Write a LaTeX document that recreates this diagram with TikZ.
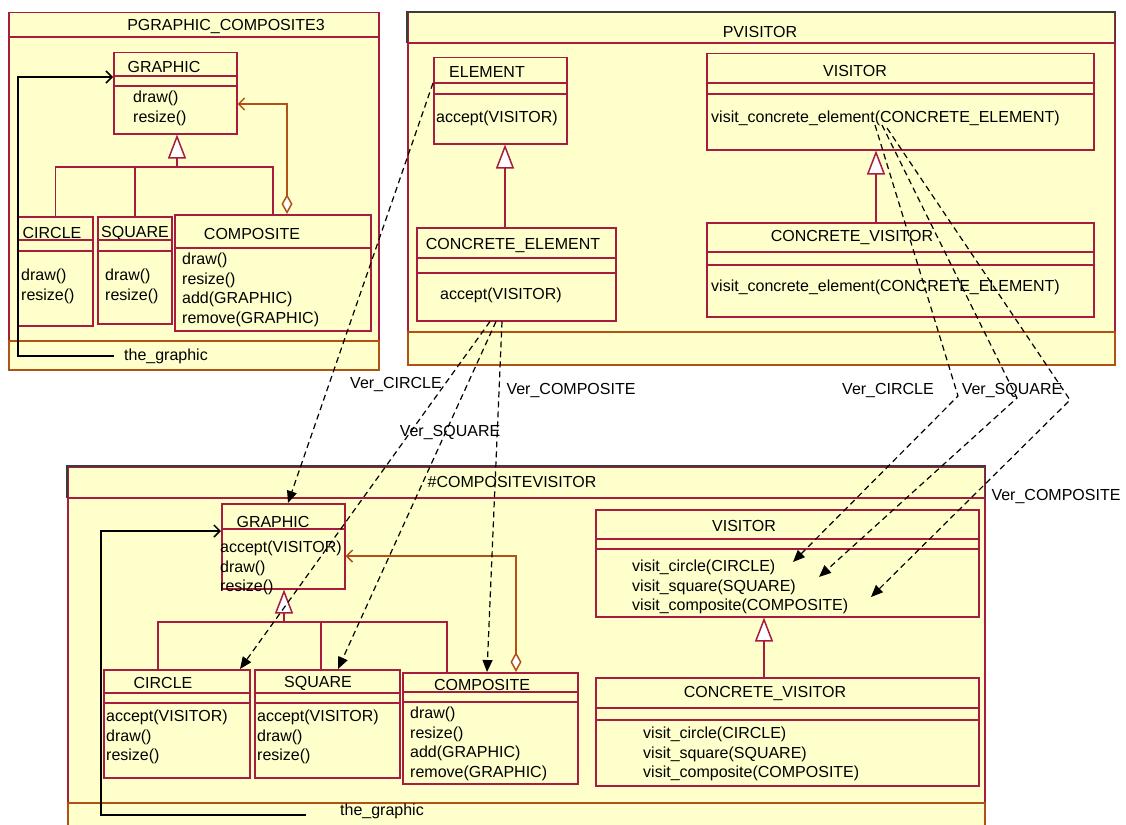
\documentclass[tikz,border=0pt]{standalone}
\usepackage{fontspec}
\setmainfont{Liberation Sans}
\usetikzlibrary{arrows.meta,calc}
\definecolor{pkgyellow}{RGB}{255,255,204}
\definecolor{umlred}{RGB}{168,28,64}
\definecolor{umlbrown}{RGB}{176,82,22}
\definecolor{umlgray}{RGB}{60,60,60}

\begin{document}
\begin{tikzpicture}[x=1pt,y=-1pt,
  pkg/.style={draw=umlred,fill=pkgyellow,line width=1.5pt,inner sep=0,anchor=north west},
  pkgfoot/.style={draw=umlbrown,fill=pkgyellow,line width=1.5pt,inner sep=0,anchor=north west},
  cls/.style={draw=umlred,fill=pkgyellow,line width=1.5pt,inner sep=0,anchor=north west},
  sep/.style={umlred,line width=1.5pt},
  txt/.style={font=\fontsize{16}{19.5}\selectfont,inner sep=0},
  ops/.style={txt,align=left,anchor=north west},
  inherit/.style={umlred,line width=1.5pt,-{Triangle[fill=white,length=24pt,width=18pt]}},
  aggr/.style={umlbrown,line width=1.5pt,{Diamond[fill=white,length=20pt,width=11pt]}-{Straight Barb[length=6pt,width=12pt]}},
  navi/.style={black,line width=1.5pt,-{Straight Barb[length=6pt,width=12pt]}},
  dep/.style={black,line width=1.2pt,dash pattern=on 6pt off 4pt,-{Triangle[length=12pt,width=10pt]}}]
  \clip (0,0) rectangle (1126,824);
  % Packages
  \node[pkg,minimum width=370pt,minimum height=357pt] (p1) at (8,12) {};
  \node[pkgfoot,minimum width=370pt,minimum height=29pt] (p1b) at (8,340) {};
  \draw[sep] ($(p1.north west)+(0,25)$) -- ($(p1.north east)+(0,25)$);
  \node[txt] (p1t) at (226,27) {PGRAPHIC\_COMPOSITE3};
  \node[pkg,minimum width=707pt,minimum height=352pt] (p2) at (407,12) {};
  \node[pkgfoot,minimum width=707pt,minimum height=33pt] (p2b) at (407,331) {};
  \draw[sep] ($(p2.north west)+(0,31)$) -- ($(p2.north east)+(0,31)$);
  \draw[umlgray,line width=1.5pt] ($(p2.north west)+(0,31)$) |- (p2.north east) -- ++(0,31);
  \node[txt] (p2t) at (760,32) {PVISITOR};
  \node[pkg,minimum width=917pt,minimum height=380pt] (p3) at (67,466) {};
  \node[pkgfoot,minimum width=917pt,minimum height=40pt] (p3b) at (67,802) {};
  \draw[sep] ($(p3.north west)+(0,32)$) -- ($(p3.north east)+(0,32)$);
  \draw[umlgray,line width=1.5pt] ($(p3.north west)+(0,32)$) |- (p3.north east) -- ++(0,32);
  \node[txt] (p3t) at (512,482) {\#COMPOSITEVISITOR};

  % Classes of PGRAPHIC_COMPOSITE3
  \node[cls,minimum width=123pt,minimum height=81pt] (g1) at (113,52) {};
  \node[cls,minimum width=75pt,minimum height=109pt] (c1) at (17,216) {};
  \node[cls,minimum width=74pt,minimum height=107pt] (s1) at (97,216) {};
  \node[cls,minimum width=196pt,minimum height=116pt] (k1) at (174,214) {};
  \node[txt] (g1n) at (164,67) {GRAPHIC};
  \node[ops] (g1o) at (133,91) {draw()\\resize()};
  \node[txt] (c1n) at (52,233) {CIRCLE};
  \node[ops] (c1o) at (21,269) {draw()\\resize()};
  \node[txt] (s1n) at (135,233) {SQUARE};
  \node[ops] (s1o) at (105,269) {draw()\\resize()};
  \node[txt] (k1n) at (252,234) {COMPOSITE};
  \node[ops] (k1o) at (182,253) {draw()\\resize()\\add(GRAPHIC)\\remove(GRAPHIC)};

  % Classes of PVISITOR
  \node[cls,minimum width=133pt,minimum height=86pt] (el) at (433,57) {};
  \node[cls,minimum width=199pt,minimum height=93pt] (ce) at (416,227) {};
  \node[cls,minimum width=387pt,minimum height=96pt] (vi) at (706,53) {};
  \node[cls,minimum width=387pt,minimum height=94pt] (cv) at (706,222) {};
  \node[txt] (eln) at (487,72) {ELEMENT};
  \node[ops] (elo) at (436,111) {accept(VISITOR)};
  \node[txt] (cen) at (513,246) {CONCRETE\_ELEMENT};
  \node[ops] (ceo) at (440,288) {accept(VISITOR)};
  \node[txt] (vin) at (855,71) {VISITOR};
  \node[ops] (vio) at (711,111) {visit\_concrete\_element(CONCRETE\_ELEMENT)};
  \node[txt] (cvn) at (852,238) {CONCRETE\_VISITOR};
  \node[ops] (cvo) at (711,280) {visit\_concrete\_element(CONCRETE\_ELEMENT)};

  % Classes of #COMPOSITEVISITOR
  \node[cls,minimum width=123pt,minimum height=85pt] (g3) at (221,503) {};
  \node[cls,minimum width=146pt,minimum height=108pt] (c3) at (103,669) {};
  \node[cls,minimum width=145pt,minimum height=108pt] (s3) at (254,669) {};
  \node[cls,minimum width=175pt,minimum height=111pt] (k3) at (402,672) {};
  \node[cls,minimum width=383pt,minimum height=107pt] (v3) at (595,509) {};
  \node[cls,minimum width=383pt,minimum height=108pt] (cv3) at (595,677) {};
  \node[txt] (g3n) at (273,522) {GRAPHIC};
  \node[ops] (g3o) at (220,541) {accept(VISITOR)\\draw()\\resize()};
  \node[txt] (c3n) at (163,683) {CIRCLE};
  \node[ops] (c3o) at (106,710) {accept(VISITOR)\\draw()\\resize()};
  \node[txt] (s3n) at (318,683) {SQUARE};
  \node[ops] (s3o) at (257,710) {accept(VISITOR)\\draw()\\resize()};
  \node[txt] (k3n) at (482,685) {COMPOSITE};
  \node[ops] (k3o) at (410,707) {draw()\\resize()\\add(GRAPHIC)\\remove(GRAPHIC)};
  \node[txt] (v3n) at (744,526) {VISITOR};
  \node[ops] (v3o) at (632,560) {visit\_circle(CIRCLE)\\visit\_square(SQUARE)\\visit\_composite(COMPOSITE)};
  \node[txt] (cv3n) at (765,693) {CONCRETE\_VISITOR};
  \node[ops] (cv3o) at (643,727) {visit\_circle(CIRCLE)\\visit\_square(SQUARE)\\visit\_composite(COMPOSITE)};

  % Compartment lines
  \foreach \n/\d in {g1/24,g1/34,c1/24,c1/35,s1/24,s1/35,k1/34,el/26,el/37,ce/31,ce/46,
    vi/30,vi/41,cv/30,cv/43,g3/26,c3/24,c3/34,s3/24,s3/34,k3/20,k3/30,v3/30,v3/40,cv3/31,cv3/43}
    \draw[sep] ($(\n.north west)+(0,\d)$) -- ($(\n.north east)+(0,\d)$);

  % Generalizations
  \coordinate (b1) at (177,167);
  \draw[sep] (c1.north) |- (b1) -| (k1.north);
  \draw[sep] (s1.north) -- (s1.north |- b1);
  \draw[inherit] (b1) -- (b1 |- g1.south);
  \draw[inherit] ($(ce.north west)+(89,0)$) -- ($(el.south west)+(72,0)$);
  \draw[inherit] ($(cv.north west)+(170,0)$) -- ($(vi.south west)+(170,0)$);
  \coordinate (b3) at (284,622);
  \draw[sep] ($(c3.north west)+(55,0)$) |- (b3) -| ($(k3.north west)+(45,0)$);
  \draw[sep] ($(s3.north west)+(67,0)$) -- ($(s3.north west)+(67,-47)$);
  \draw[inherit] (b3) -- (b3 |- g3.south);
  \draw[inherit] ($(cv3.north west)+(169,0)$) -- ($(v3.south west)+(169,0)$);

  % Aggregations and the_graphic
  \draw[aggr] ($(k1.north west)+(113,0)$) |- ($(g1.north east)+(0,52)$);
  \draw[aggr] ($(k3.north west)+(114,0)$) |- ($(g3.north east)+(0,53)$);
  \node[txt] (tg1) at (166,356) {the\_graphic};
  \draw[navi] ($(tg1.west)+(-10,0)$) -- ++(-96,0) |- ($(g1.north west)+(0,25)$);
  \node[txt] (tg3) at (382,811) {the\_graphic};
  \draw[navi] ($(tg3.west)+(-34,4)$) -- ++(-205,0) |- ($(g3.north west)+(0,28)$);

  % Dependencies
  \coordinate (bendA) at (958,396);
  \coordinate (bendB) at (1017,398);
  \coordinate (bendC) at (1070,400);
  \draw[dep] ($(el.north west)+(0,26)$) -- ($(g3.north west)+(67,0)$);
  \draw[dep] ($(ce.south west)+(74,0)$) -- ($(c3.north west)+(137,0)$);
  \draw[dep] ($(ce.south west)+(80,0)$) -- ($(s3.north west)+(84,0)$);
  \draw[dep] ($(ce.south west)+(86,0)$) -- ($(k3.north west)+(85,0)$);
  \draw[dep] ($(vi.north west)+(169,72)$) -- (bendA) -- ($(v3.north west)+(198,53)$);
  \draw[dep] ($(vi.north west)+(176,72)$) -- (bendB) -- ($(v3.north west)+(224,68)$);
  \draw[dep] ($(vi.north west)+(181,75)$) -- (bendC) -- ($(v3.north west)+(276,88)$);
  \node[txt] (vc1) at (396,384) {Ver\_CIRCLE};
  \node[txt] (vs1) at (450,432) {Ver\_SQUARE};
  \node[txt] (vk1) at (571,390) {Ver\_COMPOSITE};
  \node[txt] (vc2) at (888,390) {Ver\_CIRCLE};
  \node[txt] (vs2) at (1012,390) {Ver\_SQUARE};
  \node[txt] (vk2) at (1056,496) {Ver\_COMPOSITE};
\end{tikzpicture}
\end{document}
